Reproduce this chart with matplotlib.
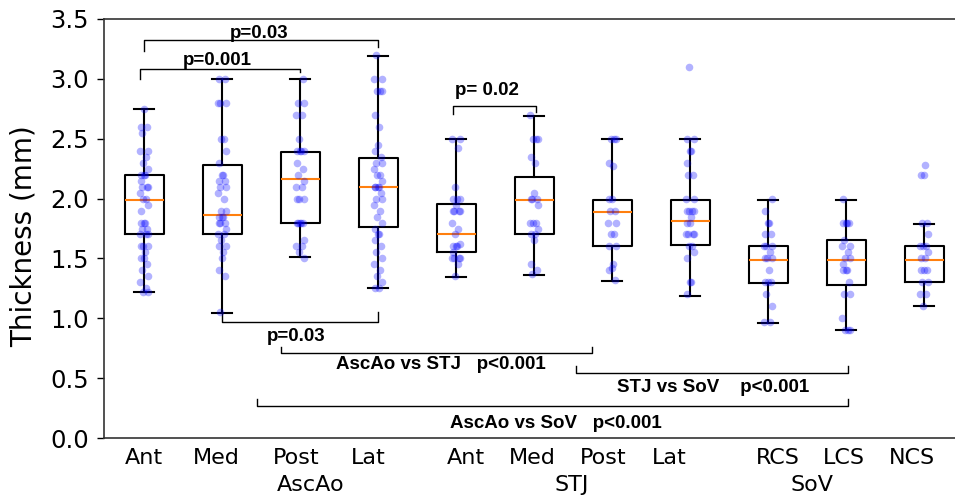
import matplotlib
matplotlib.use("Agg")
import matplotlib.pyplot as plt
import matplotlib.transforms as mtransforms

# thickness values per site (mm)
ascao_ant = [2.75, 2.6, 2.6, 2.55, 2.4, 2.4, 2.35, 2.3, 2.25, 2.2, 2.2, 2.2, 2.15, 2.1, 2.1, 2.1,
             2.05, 2.0, 2.0, 1.95, 1.9, 1.8, 1.8, 1.8, 1.75, 1.75, 1.7, 1.7, 1.7, 1.6, 1.6, 1.6,
             1.55, 1.5, 1.5, 1.45, 1.4, 1.35, 1.3, 1.25, 1.22, 1.22]
ascao_med = [3.0, 3.0, 2.8, 2.8, 2.8, 2.5, 2.5, 2.4, 2.3, 2.2, 2.2, 2.15, 2.15, 2.1, 2.1, 2.05,
             2.0, 1.9, 1.9, 1.85, 1.85, 1.85, 1.8, 1.8, 1.8, 1.75, 1.7, 1.7, 1.65, 1.6, 1.6,
             1.55, 1.5, 1.4, 1.35, 1.05]
ascao_post = [3.0, 2.8, 2.8, 2.7, 2.7, 2.5, 2.4, 2.4, 2.4, 2.4, 2.3, 2.25, 2.2, 2.15, 2.1, 2.1,
              2.0, 2.0, 2.0, 1.8, 1.8, 1.8, 1.8, 1.8, 1.65, 1.6, 1.6, 1.55, 1.5]
ascao_lat = [3.2, 3.0, 3.0, 2.9, 2.9, 2.9, 2.7, 2.6, 2.45, 2.4, 2.35, 2.3, 2.3, 2.25, 2.2, 2.2,
             2.15, 2.1, 2.1, 2.1, 2.1, 2.05, 2.0, 2.0, 1.95, 1.9, 1.85, 1.8, 1.75, 1.7, 1.7,
             1.65, 1.6, 1.55, 1.5, 1.45, 1.4, 1.35, 1.3, 1.25, 1.25]
stj_ant = [2.5, 2.5, 2.42, 2.1, 2.0, 2.0, 2.0, 1.95, 1.9, 1.9, 1.9, 1.9, 1.8, 1.75, 1.7, 1.62,
           1.6, 1.6, 1.6, 1.55, 1.5, 1.5, 1.5, 1.5, 1.45, 1.35]
stj_med = [2.7, 2.5, 2.5, 2.5, 2.35, 2.3, 2.05, 2.0, 2.0, 2.0, 1.95, 1.8, 1.8, 1.8, 1.75, 1.7,
           1.7, 1.65, 1.45, 1.4, 1.37]
stj_post = [2.5, 2.5, 2.5, 2.3, 2.27, 2.0, 2.0, 1.9, 1.9, 1.8, 1.8, 1.7, 1.7, 1.6, 1.6, 1.45,
            1.42, 1.4, 1.32]
stj_lat = [3.1, 2.5, 2.5, 2.4, 2.4, 2.3, 2.2, 2.2, 2.0, 2.0, 1.9, 1.9, 1.9, 1.9, 1.85, 1.8, 1.8,
           1.7, 1.7, 1.7, 1.7, 1.6, 1.6, 1.55, 1.5, 1.3, 1.3, 1.2]
sov_rcs = [2.0, 1.9, 1.8, 1.8, 1.7, 1.7, 1.6, 1.6, 1.6, 1.55, 1.5, 1.5, 1.5, 1.4, 1.3, 1.3, 1.3,
           1.2, 1.1, 0.97, 0.97]
sov_lcs = [2.0, 1.8, 1.8, 1.8, 1.8, 1.65, 1.6, 1.6, 1.55, 1.5, 1.5, 1.45, 1.4, 1.4, 1.4, 1.3,
           1.2, 1.2, 1.0, 0.9, 0.9, 0.9]
sov_ncs = [2.28, 2.2, 2.2, 1.8, 1.8, 1.7, 1.6, 1.6, 1.6, 1.55, 1.5, 1.5, 1.4, 1.4, 1.4, 1.3, 1.3,
           1.2, 1.2, 1.1]

groups = [ascao_ant, ascao_med, ascao_post, ascao_lat, stj_ant, stj_med, stj_post, stj_lat,
          sov_rcs, sov_lcs, sov_ncs]

# box statistics as drawn
q1 = [1.70, 1.70, 1.80, 1.76, 1.55, 1.70, 1.60, 1.61, 1.295, 1.28, 1.30]
med = [1.99, 1.86, 2.16, 2.10, 1.70, 1.99, 1.89, 1.81, 1.49, 1.49, 1.49]
q3 = [2.20, 2.28, 2.39, 2.34, 1.955, 2.18, 1.99, 1.99, 1.60, 1.65, 1.60]
whislo = [1.22, 1.04, 1.51, 1.25, 1.345, 1.36, 1.31, 1.19, 0.96, 0.90, 1.10]
whishi = [2.745, 3.0, 3.0, 3.19, 2.5, 2.69, 2.5, 2.5, 1.99, 1.99, 1.79]

site_labels = ["Ant", "Med", "Post", "Lat", "Ant", "Med", "Post", "Lat", "RCS", "LCS", "NCS"]
site_label_pos = [1.0, 1.93, 2.95, 3.88, 5.13, 5.98, 6.89, 7.73, 9.12, 9.97, 10.85]
region_labels = ["AscAo", "STJ", "SoV"]
region_label_pos = [3.13, 6.48, 9.56]

jitter = [0.0, -0.045, 0.035, -0.02, 0.055, -0.055, 0.02, -0.01, 0.045, -0.035, 0.01]

fig = plt.figure(figsize=(9.55, 5.04), dpi=100)
ax = fig.add_axes([104 / 955, 66 / 504, 851 / 955, 419 / 504])

positions = list(range(1, len(groups) + 1))
stats = []
for i in range(len(groups)):
    stats.append(dict(med=med[i], q1=q1[i], q3=q3[i], whislo=whislo[i], whishi=whishi[i], fliers=[]))

ax.bxp(stats, positions=positions, widths=0.5, showfliers=False,
       boxprops=dict(color="black", linewidth=1.5),
       whiskerprops=dict(color="black", linewidth=1.5),
       capprops=dict(color="black", linewidth=1.5),
       medianprops=dict(color="#ff7f0e", linewidth=1.5))

for i, vals in enumerate(groups):
    xs = [positions[i] + jitter[(k + i) % len(jitter)] for k in range(len(vals))]
    ax.scatter(xs, vals, s=30, color="blue", alpha=0.3, linewidths=0, zorder=3)

ax.set_xlim(0.487, 11.397)
ax.set_ylim(0, 3.5)
yt = [0, 0.5, 1.0, 1.5, 2.0, 2.5, 3.0, 3.5]
ax.set_yticks(yt)
ax.set_yticklabels(["%.1f" % v for v in yt], fontsize=17.5)
ax.tick_params(axis="y", length=5, width=1, pad=6)
ax.set_xticks(site_label_pos)
ax.set_xticklabels(site_labels, fontsize=16)
ax.tick_params(axis="x", length=0, pad=7)
ax.spines["right"].set_visible(False)
for s in ["left", "top", "bottom"]:
    ax.spines[s].set_linewidth(1.2)
    ax.spines[s].set_color("#333333")

ax.set_ylabel("Thickness (mm)", fontsize=20)
ax.yaxis.set_label_coords(-0.078, 0.482)

trans = mtransforms.blended_transform_factory(ax.transData, ax.transAxes)
for name, xp in zip(region_labels, region_label_pos):
    ax.text(xp, -0.088, name, transform=trans, ha="center", va="top", fontsize=16)

# significance brackets
ann_font = dict(family="Liberation Sans", fontweight="bold", fontsize=13.5)


def bracket(x1, x2, y, y1, y2, lw=1.0):
    ax.plot([x1, x1, x2, x2], [y1, y, y, y2], color="black", linewidth=lw, clip_on=False)


bracket(1.0, 4.0, 3.325, 3.235, 3.27)
ax.text(2.47, 3.38, "p=0.03", ha="center", va="center", **ann_font)
bracket(0.95, 3.0, 3.083, 3.0, 3.06)
ax.text(1.94, 3.15, "p=0.001", ha="center", va="center", **ann_font)
bracket(4.96, 6.03, 2.77, 2.71, 2.72)
ax.text(5.40, 2.90, "p= 0.02", ha="center", va="center", **ann_font)
bracket(2.0, 4.0, 0.97, 1.04, 1.05)
ax.text(2.95, 0.85, "p=0.03", ha="center", va="center", **ann_font)
bracket(2.76, 6.74, 0.713, 0.763, 0.763)
ax.text(4.81, 0.61, "AscAo vs STJ   p<0.001", ha="center", va="center", **ann_font)
bracket(6.54, 10.03, 0.546, 0.60, 0.60)
ax.text(8.30, 0.42, "STJ vs SoV    p<0.001", ha="center", va="center", **ann_font)
bracket(2.45, 10.03, 0.27, 0.326, 0.326)
ax.text(6.28, 0.125, "AscAo vs SoV   p<0.001", ha="center", va="center", **ann_font)

fig.savefig("out.png", dpi=100)
